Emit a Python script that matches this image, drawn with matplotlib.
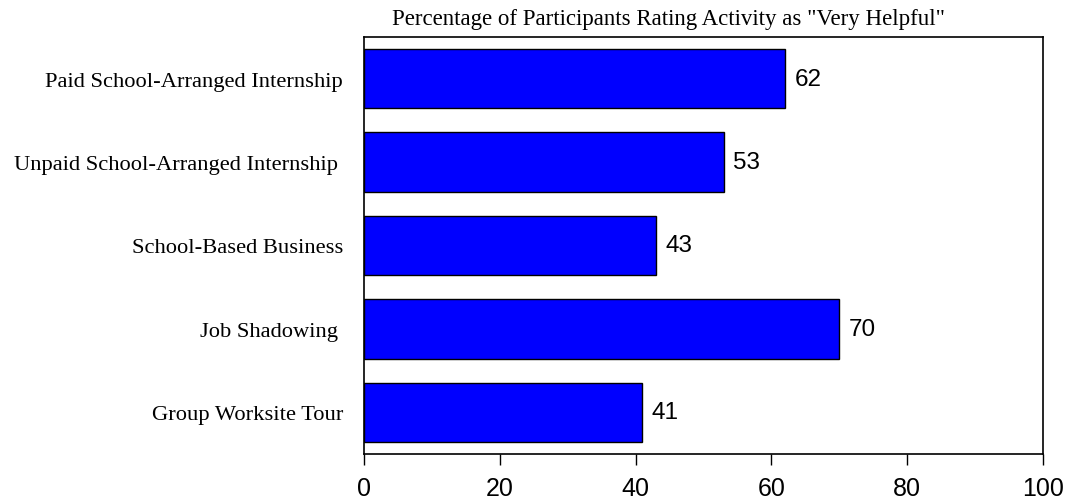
import matplotlib.pyplot as plt

categories = ["Paid School-Arranged Internship", "Unpaid School-Arranged Internship ",
              "School-Based Business", "Job Shadowing ", "Group Worksite Tour"]
values = [62, 53, 43, 70, 41]
xticks = [0, 20, 40, 60, 80, 100]

fig = plt.figure(figsize=(10.67, 5.02), dpi=100)
ax = fig.add_axes([364 / 1067, 47 / 502, 679 / 1067, 417 / 502])

pos = list(range(len(categories)))[::-1]
ax.barh(pos, values, height=0.71, color="#0000FF", edgecolor="black", linewidth=1.0)
for p, v in zip(pos, values):
    ax.text(v + 1.4, p, str(v), va="center", ha="left", fontsize=17.5,
            family="Liberation Sans")

ax.set_xlim(0, 100)
ax.set_ylim(-0.5, 4.5)
ax.set_xticks(xticks)
ax.set_xticklabels([str(t) for t in xticks], fontsize=18, family="Liberation Sans")
ax.set_yticks(pos)
ax.set_yticklabels(categories, fontsize=16.2, family="Liberation Serif")
ax.tick_params(axis="y", length=0, pad=15)
ax.tick_params(axis="x", length=8, width=1, pad=8)
for s in ax.spines.values():
    s.set_linewidth(1.2)
fig.text(668 / 1067, 1 - 20 / 502,
         'Percentage of Participants Rating Activity as "Very Helpful"',
         fontsize=16.5, family="Liberation Serif", ha="center", va="center")

fig.savefig("out.png", dpi=100)
